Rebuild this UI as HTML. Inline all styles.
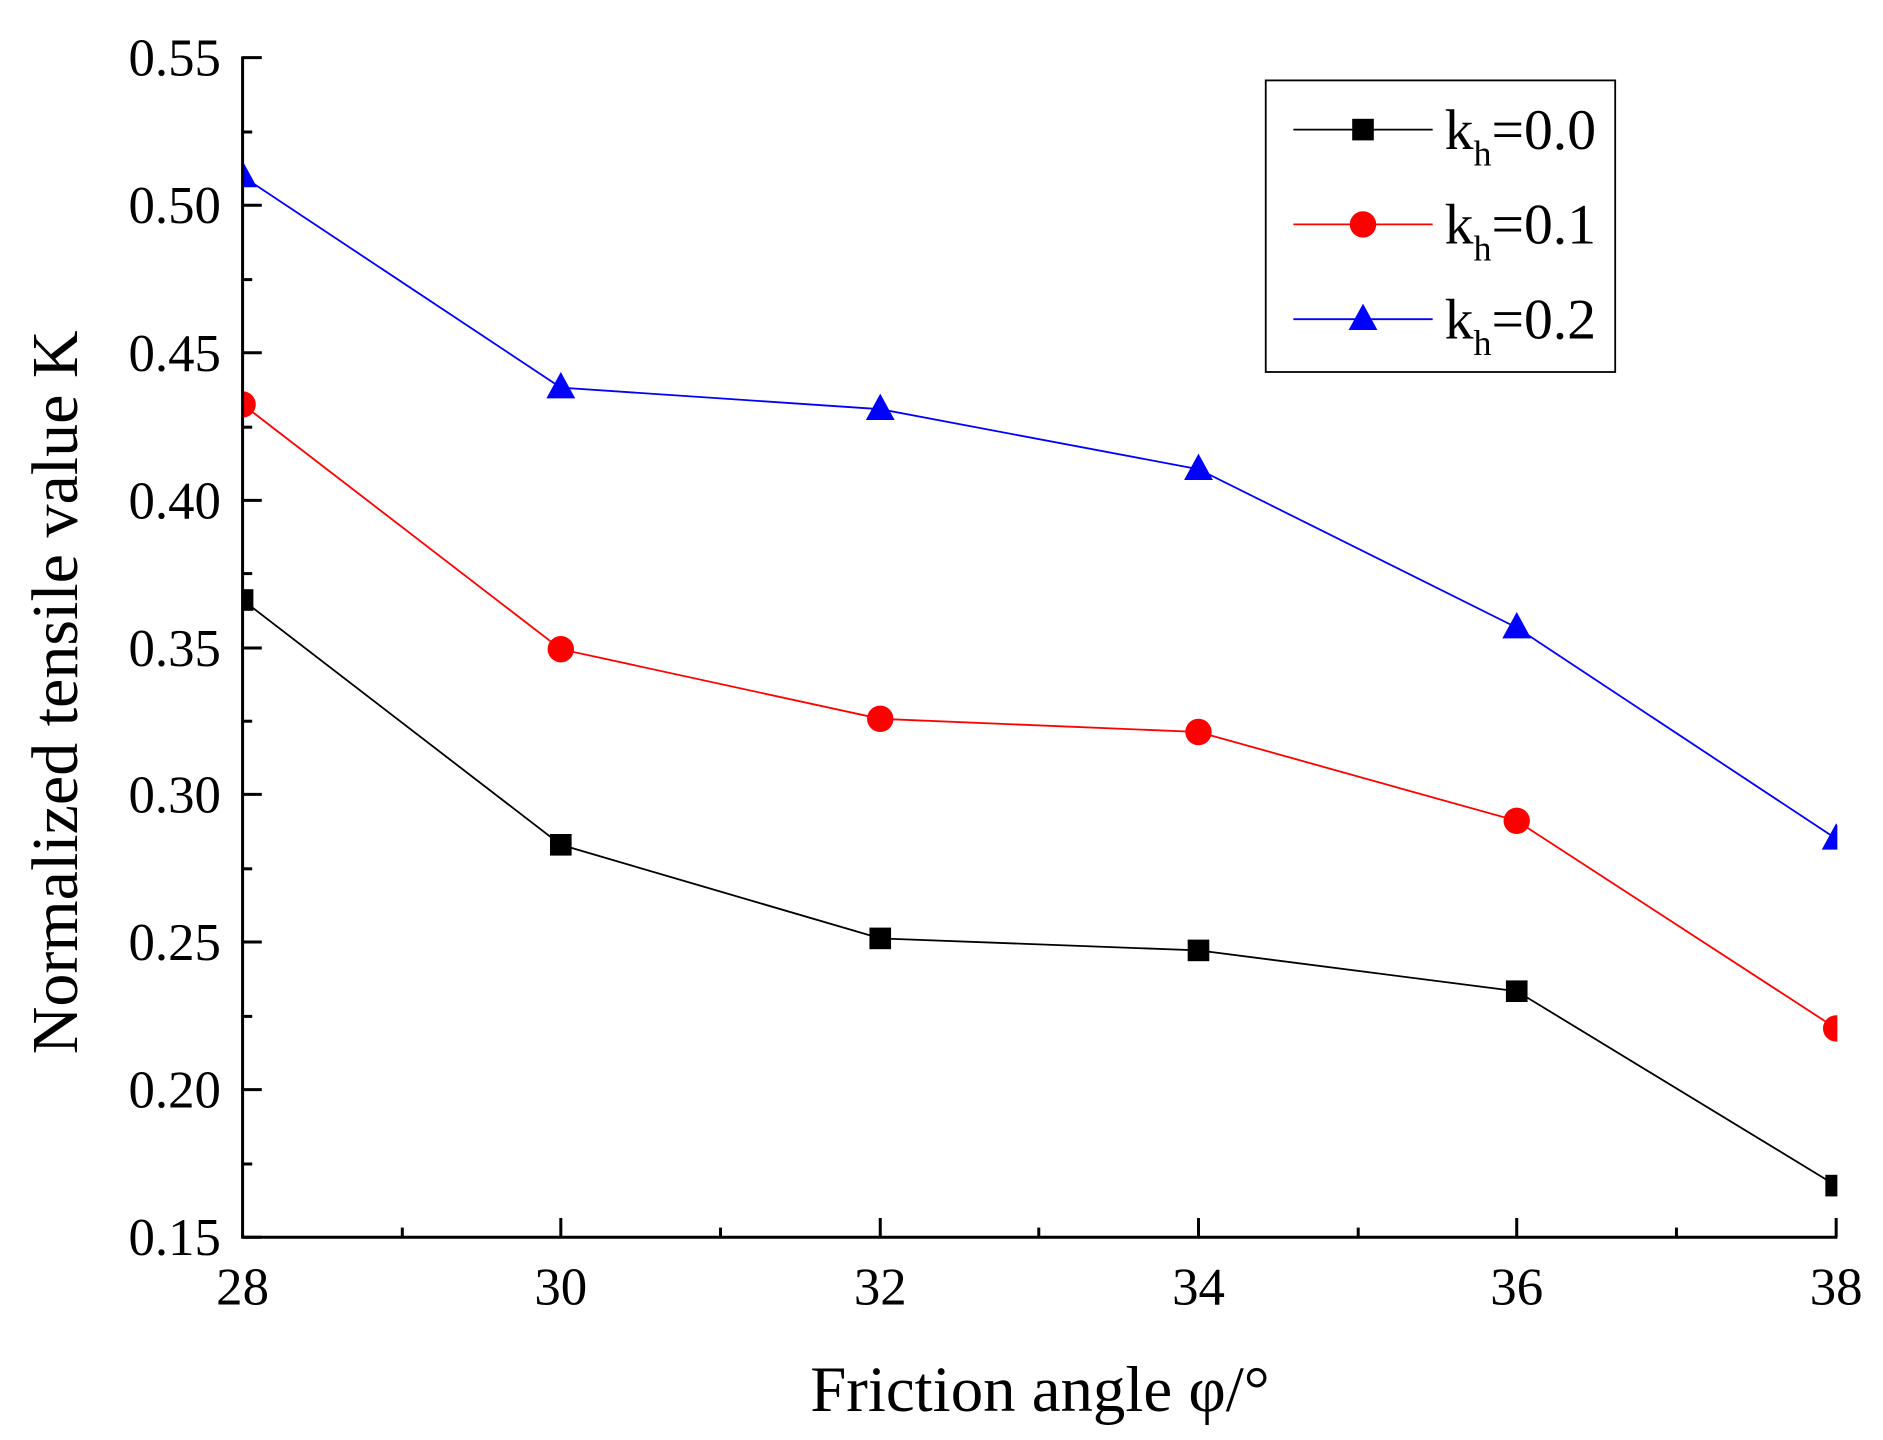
<!DOCTYPE html>
<html><head><meta charset="utf-8"><style>html,body{margin:0;padding:0;background:#fff}svg{display:block}</style></head>
<body>
<svg width="1883" height="1440" viewBox="0 0 1568 1200" preserveAspectRatio="none" xmlns="http://www.w3.org/2000/svg" font-family="'Liberation Serif', serif">
<defs><clipPath id="c"><rect x="202" y="0" width="1328" height="1040"/></clipPath></defs>
<rect width="1568" height="1200" fill="#fff"/>
<g clip-path="url(#c)">
<polyline fill="none" stroke="#000" stroke-width="1.5" points="202,500 467,704 733,782 998,792 1263,826 1529,988"/>
<polyline fill="none" stroke="#f00" stroke-width="1.5" points="202,337 467,541 733,599 998,610 1263,684 1529,857"/>
<polyline fill="none" stroke="#00f" stroke-width="1.5" points="202,147 467,323 733,341 998,391 1263,523 1529,699"/>
<g fill="#000">
<rect x="193" y="491" width="18" height="18"/><rect x="458" y="695" width="18" height="18"/><rect x="724" y="773" width="18" height="18"/><rect x="989" y="783" width="18" height="18"/><rect x="1254" y="817" width="18" height="18"/><rect x="1520" y="979" width="18" height="18"/>
</g>
<g fill="#f00">
<circle cx="202" cy="337" r="11"/><circle cx="467" cy="541" r="11"/><circle cx="733" cy="599" r="11"/><circle cx="998" cy="610" r="11"/><circle cx="1263" cy="684" r="11"/><circle cx="1529" cy="857" r="11"/>
</g>
<g fill="#00f">
<polygon points="202,134 214,156 190,156"/><polygon points="467,310 479,332 455,332"/><polygon points="733,328 745,350 721,350"/><polygon points="998,378 1010,400 986,400"/><polygon points="1263,510 1275,532 1251,532"/><polygon points="1529,686 1541,708 1517,708"/>
</g>
</g>
<g stroke="#000" stroke-width="2.5" fill="none">
<line x1="202" y1="47" x2="202" y2="1032"/><line x1="201" y1="1031" x2="1530" y2="1031"/>
</g>
<g stroke="#000" stroke-width="2.5">
<line x1="202" y1="1031" x2="218" y2="1031"/><line x1="202" y1="908" x2="218" y2="908"/><line x1="202" y1="785" x2="218" y2="785"/><line x1="202" y1="662" x2="218" y2="662"/><line x1="202" y1="540" x2="218" y2="540"/><line x1="202" y1="417" x2="218" y2="417"/><line x1="202" y1="294" x2="218" y2="294"/><line x1="202" y1="171" x2="218" y2="171"/><line x1="202" y1="48" x2="218" y2="48"/>
<line x1="202" y1="970" x2="210" y2="970"/><line x1="202" y1="847" x2="210" y2="847"/><line x1="202" y1="724" x2="210" y2="724"/><line x1="202" y1="601" x2="210" y2="601"/><line x1="202" y1="478" x2="210" y2="478"/><line x1="202" y1="356" x2="210" y2="356"/><line x1="202" y1="233" x2="210" y2="233"/><line x1="202" y1="110" x2="210" y2="110"/>
<line x1="467" y1="1031" x2="467" y2="1015"/><line x1="733" y1="1031" x2="733" y2="1015"/><line x1="998" y1="1031" x2="998" y2="1015"/><line x1="1263" y1="1031" x2="1263" y2="1015"/><line x1="1529" y1="1031" x2="1529" y2="1015"/>
<line x1="335" y1="1031" x2="335" y2="1023"/><line x1="600" y1="1031" x2="600" y2="1023"/><line x1="865" y1="1031" x2="865" y2="1023"/><line x1="1131" y1="1031" x2="1131" y2="1023"/><line x1="1396" y1="1031" x2="1396" y2="1023"/>
</g>
<g font-size="44" text-anchor="end">
<text x="184" y="1046">0.15</text><text x="184" y="923">0.20</text><text x="184" y="800">0.25</text><text x="184" y="677">0.30</text><text x="184" y="555">0.35</text><text x="184" y="432">0.40</text><text x="184" y="309">0.45</text><text x="184" y="186">0.50</text><text x="184" y="63">0.55</text>
</g>
<g font-size="44" text-anchor="middle">
<text x="202" y="1087">28</text><text x="467" y="1087">30</text><text x="733" y="1087">32</text><text x="998" y="1087">34</text><text x="1263" y="1087">36</text><text x="1529" y="1087">38</text>
</g>
<text x="866" y="1176" font-size="54" text-anchor="middle">Friction angle φ/°</text>
<text transform="translate(64,577) rotate(-90)" font-size="55" text-anchor="middle">Normalized tensile value K</text>
<rect x="1054" y="67" width="291" height="243" fill="#fff" stroke="#000" stroke-width="1.5"/>
<line x1="1077" y1="108" x2="1193" y2="108" stroke="#000" stroke-width="1.5"/><rect x="1126" y="99" width="18" height="18"/>
<line x1="1077" y1="187" x2="1193" y2="187" stroke="#f00" stroke-width="1.5"/><circle cx="1135" cy="187" r="11" fill="#f00"/>
<line x1="1077" y1="266" x2="1193" y2="266" stroke="#00f" stroke-width="1.5"/><polygon points="1135,253 1147,275 1123,275" fill="#00f"/>
<g font-size="48">
<text x="1203" y="124">k<tspan font-size="30" dy="14">h</tspan><tspan dy="-14">=0.0</tspan></text>
<text x="1203" y="203">k<tspan font-size="30" dy="14">h</tspan><tspan dy="-14">=0.1</tspan></text>
<text x="1203" y="282">k<tspan font-size="30" dy="14">h</tspan><tspan dy="-14">=0.2</tspan></text>
</g>
</svg>
</body></html>
